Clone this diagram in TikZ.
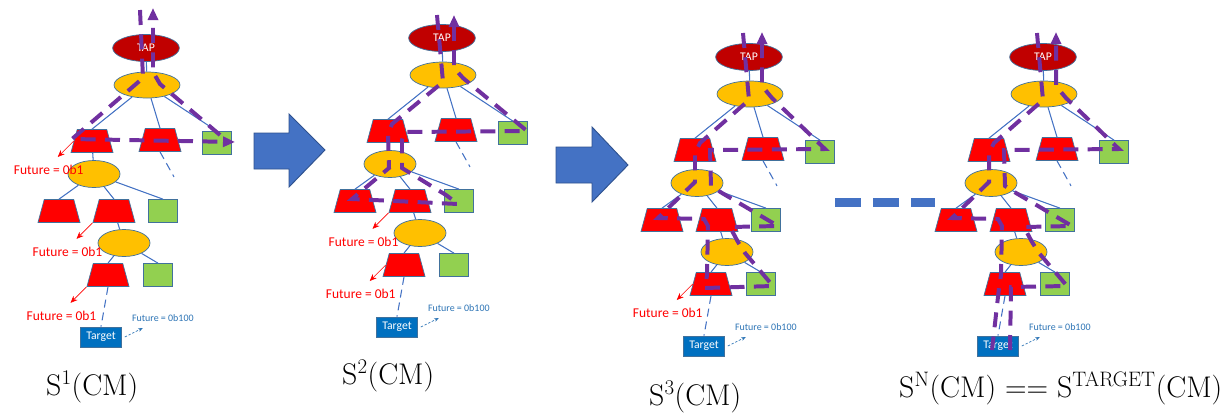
\documentclass[tikz,border=0pt]{standalone}
\usepackage{fontspec}
\newfontfamily\calibri{Carlito}
\usepackage{tikz}
\usetikzlibrary{arrows.meta,positioning,calc,shapes.geometric}
\definecolor{TapRed}{HTML}{C00000}
\definecolor{ChoiceGold}{HTML}{FFC000}
\definecolor{FailRed}{HTML}{FF0000}
\definecolor{PassGreen}{HTML}{92D050}
\definecolor{TargetBlue}{HTML}{0070C0}
\definecolor{BranchBlue}{HTML}{4472C4}
\definecolor{ShapeLine}{HTML}{41719C}
\definecolor{WalkPurple}{HTML}{7030A0}
\definecolor{HintBlue}{HTML}{2E75B6}
\definecolor{StepLine}{HTML}{2F528F}
\newcommand{\SearchTree}[2]{%
\begin{scope}[shift={#2}]
  \node[tapnode] (#1tap) at (0,0) {TAP};
  \node[choice,minimum width=1.98cm,minimum height=0.78cm] (#1e1) at (1,37) {};
  \node[fail] (#1ra) at (-54,93) {};
  \node[fail] (#1rb) at (14,92) {};
  \node[pass] (#1rg) at (71,95) {};
  \node[choice] (#1e2) at (-52,126) {};
  \node[fail] (#1sa) at (-87,163) {};
  \node[fail] (#1sb) at (-32,163) {};
  \node[pass] (#1sg) at (17,163) {};
  \node[choice] (#1e3) at (-22,195) {};
  \node[fail] (#1ta) at (-38,227) {};
  \node[pass] (#1tg) at (12,227) {};
  \node[targetbox] (#1tgt) at (-45,289) {Target};
  \draw[branch] (#1tap) -- (#1e1);
  \draw[branch] (#1e1) -- (#1ra.north);
  \draw[branch] (#1e1) -- (#1rb.north);
  \draw[branch] (#1e1) -- (#1rg.north);
  \draw[openbranch] (#1rb.south) -- ++(14,25);
  \draw[branch] (#1ra) -- (#1e2);
  \draw[branch] (#1e2) -- (#1sa.north);
  \draw[branch] (#1e2) -- (#1sb.north);
  \draw[branch] (#1e2) -- (#1sg.north);
  \draw[branch] (#1sb) -- (#1e3);
  \draw[branch] (#1e3) -- (#1ta.north);
  \draw[branch] (#1e3) -- (#1tg.north);
  \draw[openbranch] (#1ta.south) -- (#1tgt.north);
  \draw[hintarrow] (#1tgt.east) ++(3,0) -- ++(18,-9)
    node[hintlabel,anchor=south,xshift=0.6cm,yshift=0.18cm] (#1hint) {Future = 0b100};
\end{scope}}

\begin{document}
\begin{tikzpicture}[
  x=0.03cm,y=-0.03cm,
  tapnode/.style={ellipse,draw=ShapeLine,line width=0.6pt,fill=TapRed,minimum width=2cm,minimum height=0.81cm,inner sep=0pt,text=white,font=\calibri\fontsize{10}{12}\selectfont},
  choice/.style={ellipse,draw=ShapeLine,line width=0.6pt,fill=ChoiceGold,minimum width=1.56cm,minimum height=0.81cm,inner sep=0pt},
  fail/.style={trapezium,trapezium stretches=true,trapezium left angle=78,trapezium right angle=78,draw=ShapeLine,line width=0.6pt,fill=FailRed,minimum width=1.26cm,minimum height=0.69cm,inner sep=2pt},
  pass/.style={rectangle,draw=ShapeLine,line width=0.6pt,fill=PassGreen,minimum width=0.87cm,minimum height=0.69cm,inner sep=0pt},
  targetbox/.style={rectangle,draw=ShapeLine,line width=0.6pt,fill=TargetBlue,minimum width=1.23cm,minimum height=0.6cm,inner sep=0pt,text=white,font=\calibri\fontsize{10}{12}\selectfont},
  branch/.style={draw=BranchBlue,line width=0.9pt},
  openbranch/.style={branch,dash pattern=on 0.24cm off 0.15cm},
  hintarrow/.style={draw=HintBlue,line width=0.5pt,dash pattern=on 2pt off 1.5pt,-{Stealth[length=4pt,width=3pt]}},
  hintlabel/.style={text=HintBlue,inner sep=0pt,font=\calibri\fontsize{8.5}{10}\selectfont},
  futarrow/.style={draw=FailRed,line width=0.5pt,-{Stealth[length=6pt,width=5pt]}},
  futlabel/.style={text=FailRed,inner sep=0pt,font=\calibri\fontsize{11.5}{13}\selectfont},
  walk/.style={draw=WalkPurple,line width=3.4pt,dash pattern=on 0.45cm off 0.28cm},
  walkend/.style={walk,-{Triangle[length=0.36cm,width=0.3cm]}},
  bigarrow/.style={draw=StepLine,line width=0.8pt,fill=BranchBlue},
  stage/.style={inner sep=0pt,font=\fontsize{25.5}{30}\selectfont},
]
\fill[white] (0,0) rectangle (1223,412);
\useasboundingbox (0,0) rectangle (1223,412);

% the four states of the search tree
\SearchTree{t1}{(146,48)}
\SearchTree{t2}{(442,38)}
\SearchTree{t3}{(749,57)}
\SearchTree{t4}{(1043,57)}

% futures of the failed branches
\draw[futarrow] (t1ra.west) -- ++(-16,16) node[futlabel,xshift=-0.27cm,yshift=-0.39cm] (t1f1) {Future = 0b1};
\draw[futarrow] (t1sb.bottom left corner) -- ++(-16,16) node[futlabel,xshift=-0.27cm,yshift=-0.39cm] (t1f2) {Future = 0b1};
\draw[futarrow] (t1ta.bottom left corner) -- ++(-16,16) node[futlabel,xshift=-0.27cm,yshift=-0.39cm] (t1f3) {Future = 0b1};
\draw[futarrow] (t2sb.bottom left corner) -- ++(-16,16) node[futlabel,xshift=-0.27cm,yshift=-0.39cm] (t2f2) {Future = 0b1};
\draw[futarrow] (t2ta.west) -- ++(-16,16) node[futlabel,xshift=-0.27cm,yshift=-0.39cm] (t2f3) {Future = 0b1};
\draw[futarrow] (t3ta.west) -- ++(-16,16) node[futlabel,xshift=-0.27cm,yshift=-0.39cm] (t3f3) {Future = 0b1};

% walks through each tree
\draw[walkend] (140,10) -- (143,78) -- (72,139) -- (235,142);
\draw[walkend] (220,135) -- (160,84) -- (153,72) -- (153,8);
\draw[walkend] (437,15) -- (443,82) -- (392,124) -- (388,134) -- (389,168) -- (352,199) -- (458,204)
  -- (446,195) -- (402,168) -- (402,140) -- (405,132) -- (527,131) -- (463,78) -- (454,68) -- (454,15);
\draw[walkend] (743,33) -- (749,100) -- (700,143) -- (695,153) -- (695,182) -- (658,218) -- (704,219)
  -- (708,226) -- (707,275) -- (705,288) -- (773,286) -- (745,253) -- (738,242) -- (730,227) -- (778,226)
  -- (722,193) -- (711,186) -- (710,150) -- (825,149) -- (772,98) -- (762,86) -- (762,32);
\draw[walk] (1037,33) -- (1043,100) -- (994,143) -- (989,153) -- (989,182) -- (952,218) -- (998,219)
  -- (1002,226) -- (1001,275) -- (999,288) -- (992,350);
\draw[walkend] (1010,350) -- (1011,287) -- (1067,286) -- (1039,253) -- (1032,242) -- (1024,227) -- (1072,226)
  -- (1016,193) -- (1005,186) -- (1004,150) -- (1119,149) -- (1066,98) -- (1056,86) -- (1056,32);

% steps between the states
\draw[bigarrow] (254,133) -- (289,133) -- (289,114) -- (325,150) -- (289,187) -- (289,169) -- (254,169) -- cycle;
\draw[bigarrow] (556,147) -- (592,147) -- (592,127) -- (628,165) -- (592,202) -- (592,183) -- (556,183) -- cycle;
\draw[draw=BranchBlue,line width=0.27cm,dash pattern=on 0.78cm off 0.36cm] (835,202) -- (935,202);

\node[stage,anchor=base west] (s1) at (46,395) {S\textsuperscript{1}(CM)};
\node[stage,anchor=base west] (s2) at (342,384) {S\textsuperscript{2}(CM)};
\node[stage,anchor=base west] (s3) at (649,405) {S\textsuperscript{3}(CM)};
\node[stage,anchor=base west] (sn) at (899,397) {S\textsuperscript{N}(CM) == S\textsuperscript{TARGET}(CM)};
\end{tikzpicture}
\end{document}
